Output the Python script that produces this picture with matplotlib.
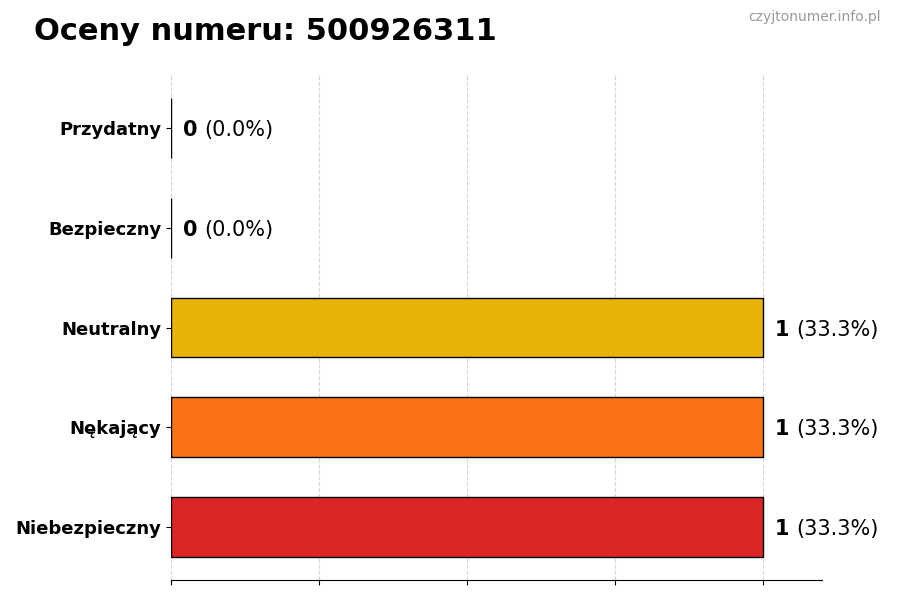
import matplotlib
matplotlib.use("Agg")
import matplotlib.pyplot as plt

# dane (od góry do dołu)
labels = ["Przydatny", "Bezpieczny", "Neutralny", "Nękający", "Niebezpieczny"]
counts = [0, 0, 1, 1, 1]
colors = ["#22C55E", "#3B82F6", "#EAB308", "#F97316", "#DC2626"]
total = sum(counts)
number = "500926311"

fig = plt.figure(figsize=(9, 6), dpi=100)
ax = fig.add_axes([0.19, 0.0333, 0.723, 0.8417])

ypos = list(range(len(labels)))[::-1]
ax.barh(ypos, counts, height=0.6, color=colors, edgecolor="black",
        linewidth=1.0, zorder=2)

ax.set_xlim(0, 1.1)
ax.set_xticks([0, 0.25, 0.5, 0.75, 1.0])
ax.set_xticklabels([])
ax.set_yticks(ypos)
ax.set_yticklabels(labels, fontsize=13, fontweight="bold")
# siatka lekko widoczna także na słupkach
ax.grid(axis="x", linestyle="--", color="#bbbbbb", linewidth=0.8,
        alpha=0.6, zorder=3)
for s in ("top", "right", "left"):
    ax.spines[s].set_visible(False)

for y, c in zip(ypos, counts):
    pct = 100 * c / total if total else 0
    t = ax.text(c + 0.02, y, str(c), fontsize=15, fontweight="bold",
                va="center_baseline", ha="left")
    ax.annotate(f"({pct:.1f}%)", xy=(1, 0), xycoords=t,
                xytext=(5, 0), textcoords="offset points",
                fontsize=15, va="bottom", ha="left")

fig.text(0.038, 0.948, f"Oceny numeru: {number}", fontsize=22,
         fontweight="bold", ha="left", va="center")
fig.text(0.979, 0.972, "czyjtonumer.info.pl", fontsize=10, color="#999999",
         ha="right", va="center")

fig.savefig("out.png", dpi=100)
